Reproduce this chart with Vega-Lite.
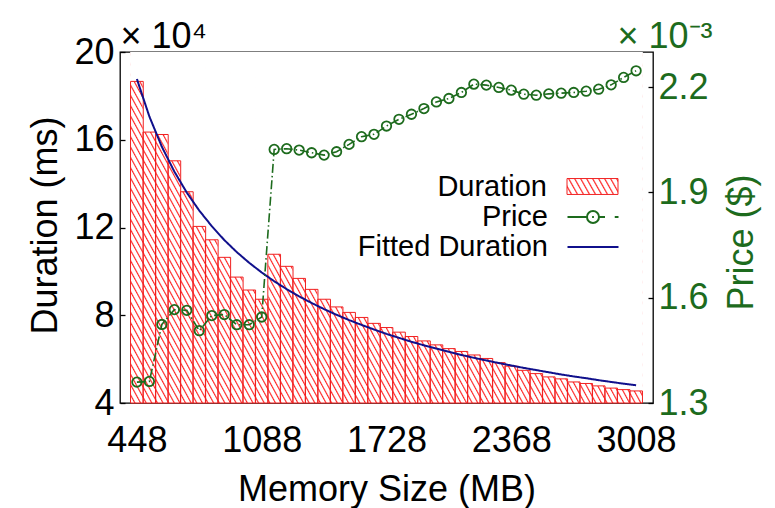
{
"$schema": "https://vega.github.io/schema/vega-lite/v6.json",
"width": 533, "height": 351,
"autosize": {"type": "none"},
"padding": {"left": 120, "top": 52, "right": 122, "bottom": 105},
"background": "white",
"config": {
  "view": {"stroke": "black", "strokeWidth": 1.3},
  "font": "Liberation Sans",
  "axis": {"labelFont": "Liberation Sans", "titleFont": "Liberation Sans", "labelFontSize": 36, "titleFontSize": 36, "titleFontWeight": "normal", "labelColor": "black", "titleColor": "black", "tickColor": "black", "tickWidth": 1.3, "grid": false, "domain": false, "labelFlush": false, "labelOverlap": false, "labelBound": false},
  "legend": {"orient": "none", "legendX": 457, "title": null, "labelFontSize": 29, "labelFont": "Liberation Sans", "labelColor": "black", "labelAlign": "right", "labelOffset": -61, "labelLimit": 0, "symbolSize": 900, "padding": 0, "symbolOpacity": 1}
},
"data": {"values": [
{"mem":448,"duration":186600,"price":0.0013595,"fitted":187700},
{"mem":512,"duration":163500,"price":0.0013615,"fitted":170600},
{"mem":576,"duration":162400,"price":0.0015237,"fitted":156800},
{"mem":640,"duration":150400,"price":0.001566,"fitted":145500},
{"mem":704,"duration":136300,"price":0.001564,"fitted":135900},
{"mem":768,"duration":120500,"price":0.001506,"fitted":127700},
{"mem":832,"duration":114400,"price":0.001549,"fitted":120600},
{"mem":896,"duration":106400,"price":0.001552,"fitted":114300},
{"mem":960,"duration":97400,"price":0.001523,"fitted":108800},
{"mem":1024,"duration":91500,"price":0.001523,"fitted":103900},
{"mem":1088,"duration":87300,"price":0.001545,"fitted":99500},
{"mem":1152,"duration":107800,"price":0.0020224,"fitted":95500},
{"mem":1216,"duration":102300,"price":0.0020245,"fitted":91900},
{"mem":1280,"duration":96800,"price":0.0020205,"fitted":88600},
{"mem":1344,"duration":91800,"price":0.002013,"fitted":85600},
{"mem":1408,"duration":87300,"price":0.0020062,"fitted":82800},
{"mem":1472,"duration":83800,"price":0.0020159,"fitted":80200},
{"mem":1536,"duration":81300,"price":0.0020368,"fitted":77800},
{"mem":1600,"duration":79000,"price":0.0020588,"fitted":75600},
{"mem":1664,"duration":76300,"price":0.0020654,"fitted":73500},
{"mem":1728,"duration":74400,"price":0.0020891,"fitted":71500},
{"mem":1792,"duration":72300,"price":0.0021083,"fitted":69700},
{"mem":1856,"duration":70300,"price":0.0021226,"fitted":67900},
{"mem":1920,"duration":68300,"price":0.0021389,"fitted":66300},
{"mem":1984,"duration":66500,"price":0.0021578,"fitted":64800},
{"mem":2048,"duration":64800,"price":0.0021675,"fitted":63300},
{"mem":2112,"duration":63500,"price":0.0021847,"fitted":61900},
{"mem":2176,"duration":61900,"price":0.0022084,"fitted":60600},
{"mem":2240,"duration":60300,"price":0.0022056,"fitted":59400},
{"mem":2304,"duration":58400,"price":0.002199,"fitted":58200},
{"mem":2368,"duration":56800,"price":0.0021913,"fitted":57100},
{"mem":2432,"duration":54900,"price":0.0021798,"fitted":56000},
{"mem":2496,"duration":53400,"price":0.002177,"fitted":55000},
{"mem":2560,"duration":51900,"price":0.0021807,"fitted":54000},
{"mem":2624,"duration":51000,"price":0.0021827,"fitted":53000},
{"mem":2688,"duration":49600,"price":0.0021847,"fitted":52100},
{"mem":2752,"duration":48900,"price":0.0021884,"fitted":51300},
{"mem":2816,"duration":47800,"price":0.0021941,"fitted":50400},
{"mem":2880,"duration":46800,"price":0.0022064,"fitted":49600},
{"mem":2944,"duration":46100,"price":0.0022276,"fitted":48800},
{"mem":3008,"duration":45500,"price":0.0022465,"fitted":48100}
]},
"layer": [
  {
    "data": {"values": [{"part": "hatch"}]},
    "mark": {"type": "rect", "stroke": null, "fill": {"gradient": "linear", "x1": 0, "y1": 1, "x2": 1.2051, "y2": 0.55, "stops": [
{"offset":0,"color":"#fff"},{"offset":0.0044,"color":"#fff"},{"offset":0.006,"color":"#f22"},
{"offset":0.008,"color":"#fff"},{"offset":0.0124,"color":"#fff"},{"offset":0.014,"color":"#f22"},
{"offset":0.016,"color":"#fff"},{"offset":0.0204,"color":"#fff"},{"offset":0.022,"color":"#f22"},
{"offset":0.024,"color":"#fff"},{"offset":0.0284,"color":"#fff"},{"offset":0.03,"color":"#f22"},
{"offset":0.032,"color":"#fff"},{"offset":0.0364,"color":"#fff"},{"offset":0.038,"color":"#f22"},
{"offset":0.04,"color":"#fff"},{"offset":0.0444,"color":"#fff"},{"offset":0.046,"color":"#f22"},
{"offset":0.048,"color":"#fff"},{"offset":0.0524,"color":"#fff"},{"offset":0.054,"color":"#f22"},
{"offset":0.056,"color":"#fff"},{"offset":0.0604,"color":"#fff"},{"offset":0.062,"color":"#f22"},
{"offset":0.064,"color":"#fff"},{"offset":0.0684,"color":"#fff"},{"offset":0.07,"color":"#f22"},
{"offset":0.072,"color":"#fff"},{"offset":0.0764,"color":"#fff"},{"offset":0.078,"color":"#f22"},
{"offset":0.08,"color":"#fff"},{"offset":0.0844,"color":"#fff"},{"offset":0.086,"color":"#f22"},
{"offset":0.088,"color":"#fff"},{"offset":0.0924,"color":"#fff"},{"offset":0.094,"color":"#f22"},
{"offset":0.096,"color":"#fff"},{"offset":0.1004,"color":"#fff"},{"offset":0.102,"color":"#f22"},
{"offset":0.104,"color":"#fff"},{"offset":0.1084,"color":"#fff"},{"offset":0.11,"color":"#f22"},
{"offset":0.112,"color":"#fff"},{"offset":0.1164,"color":"#fff"},{"offset":0.118,"color":"#f22"},
{"offset":0.12,"color":"#fff"},{"offset":0.1244,"color":"#fff"},{"offset":0.126,"color":"#f22"},
{"offset":0.128,"color":"#fff"},{"offset":0.1324,"color":"#fff"},{"offset":0.134,"color":"#f22"},
{"offset":0.136,"color":"#fff"},{"offset":0.1404,"color":"#fff"},{"offset":0.142,"color":"#f22"},
{"offset":0.144,"color":"#fff"},{"offset":0.1484,"color":"#fff"},{"offset":0.15,"color":"#f22"},
{"offset":0.152,"color":"#fff"},{"offset":0.1564,"color":"#fff"},{"offset":0.158,"color":"#f22"},
{"offset":0.16,"color":"#fff"},{"offset":0.1644,"color":"#fff"},{"offset":0.166,"color":"#f22"},
{"offset":0.168,"color":"#fff"},{"offset":0.1724,"color":"#fff"},{"offset":0.174,"color":"#f22"},
{"offset":0.176,"color":"#fff"},{"offset":0.1804,"color":"#fff"},{"offset":0.182,"color":"#f22"},
{"offset":0.184,"color":"#fff"},{"offset":0.1884,"color":"#fff"},{"offset":0.19,"color":"#f22"},
{"offset":0.192,"color":"#fff"},{"offset":0.1964,"color":"#fff"},{"offset":0.198,"color":"#f22"},
{"offset":0.2,"color":"#fff"},{"offset":0.2044,"color":"#fff"},{"offset":0.206,"color":"#f22"},
{"offset":0.208,"color":"#fff"},{"offset":0.2124,"color":"#fff"},{"offset":0.214,"color":"#f22"},
{"offset":0.216,"color":"#fff"},{"offset":0.2204,"color":"#fff"},{"offset":0.222,"color":"#f22"},
{"offset":0.224,"color":"#fff"},{"offset":0.2284,"color":"#fff"},{"offset":0.23,"color":"#f22"},
{"offset":0.232,"color":"#fff"},{"offset":0.2364,"color":"#fff"},{"offset":0.238,"color":"#f22"},
{"offset":0.24,"color":"#fff"},{"offset":0.2444,"color":"#fff"},{"offset":0.246,"color":"#f22"},
{"offset":0.248,"color":"#fff"},{"offset":0.2524,"color":"#fff"},{"offset":0.254,"color":"#f22"},
{"offset":0.256,"color":"#fff"},{"offset":0.2604,"color":"#fff"},{"offset":0.262,"color":"#f22"},
{"offset":0.264,"color":"#fff"},{"offset":0.2684,"color":"#fff"},{"offset":0.27,"color":"#f22"},
{"offset":0.272,"color":"#fff"},{"offset":0.2764,"color":"#fff"},{"offset":0.278,"color":"#f22"},
{"offset":0.28,"color":"#fff"},{"offset":0.2844,"color":"#fff"},{"offset":0.286,"color":"#f22"},
{"offset":0.288,"color":"#fff"},{"offset":0.2924,"color":"#fff"},{"offset":0.294,"color":"#f22"},
{"offset":0.296,"color":"#fff"},{"offset":0.3004,"color":"#fff"},{"offset":0.302,"color":"#f22"},
{"offset":0.304,"color":"#fff"},{"offset":0.3084,"color":"#fff"},{"offset":0.31,"color":"#f22"},
{"offset":0.312,"color":"#fff"},{"offset":0.3164,"color":"#fff"},{"offset":0.318,"color":"#f22"},
{"offset":0.32,"color":"#fff"},{"offset":0.3244,"color":"#fff"},{"offset":0.326,"color":"#f22"},
{"offset":0.328,"color":"#fff"},{"offset":0.3324,"color":"#fff"},{"offset":0.334,"color":"#f22"},
{"offset":0.336,"color":"#fff"},{"offset":0.3404,"color":"#fff"},{"offset":0.342,"color":"#f22"},
{"offset":0.344,"color":"#fff"},{"offset":0.3484,"color":"#fff"},{"offset":0.35,"color":"#f22"},
{"offset":0.352,"color":"#fff"},{"offset":0.3564,"color":"#fff"},{"offset":0.358,"color":"#f22"},
{"offset":0.36,"color":"#fff"},{"offset":0.3644,"color":"#fff"},{"offset":0.366,"color":"#f22"},
{"offset":0.368,"color":"#fff"},{"offset":0.3724,"color":"#fff"},{"offset":0.374,"color":"#f22"},
{"offset":0.376,"color":"#fff"},{"offset":0.3804,"color":"#fff"},{"offset":0.382,"color":"#f22"},
{"offset":0.384,"color":"#fff"},{"offset":0.3884,"color":"#fff"},{"offset":0.39,"color":"#f22"},
{"offset":0.392,"color":"#fff"},{"offset":0.3964,"color":"#fff"},{"offset":0.398,"color":"#f22"},
{"offset":0.4,"color":"#fff"},{"offset":0.4044,"color":"#fff"},{"offset":0.406,"color":"#f22"},
{"offset":0.408,"color":"#fff"},{"offset":0.4124,"color":"#fff"},{"offset":0.414,"color":"#f22"},
{"offset":0.416,"color":"#fff"},{"offset":0.4204,"color":"#fff"},{"offset":0.422,"color":"#f22"},
{"offset":0.424,"color":"#fff"},{"offset":0.4284,"color":"#fff"},{"offset":0.43,"color":"#f22"},
{"offset":0.432,"color":"#fff"},{"offset":0.4364,"color":"#fff"},{"offset":0.438,"color":"#f22"},
{"offset":0.44,"color":"#fff"},{"offset":0.4444,"color":"#fff"},{"offset":0.446,"color":"#f22"},
{"offset":0.448,"color":"#fff"},{"offset":0.4524,"color":"#fff"},{"offset":0.454,"color":"#f22"},
{"offset":0.456,"color":"#fff"},{"offset":0.4604,"color":"#fff"},{"offset":0.462,"color":"#f22"},
{"offset":0.464,"color":"#fff"},{"offset":0.4684,"color":"#fff"},{"offset":0.47,"color":"#f22"},
{"offset":0.472,"color":"#fff"},{"offset":0.4764,"color":"#fff"},{"offset":0.478,"color":"#f22"},
{"offset":0.48,"color":"#fff"},{"offset":0.4844,"color":"#fff"},{"offset":0.486,"color":"#f22"},
{"offset":0.488,"color":"#fff"},{"offset":0.4924,"color":"#fff"},{"offset":0.494,"color":"#f22"},
{"offset":0.496,"color":"#fff"},{"offset":0.5004,"color":"#fff"},{"offset":0.502,"color":"#f22"},
{"offset":0.504,"color":"#fff"},{"offset":0.5084,"color":"#fff"},{"offset":0.51,"color":"#f22"},
{"offset":0.512,"color":"#fff"},{"offset":0.5164,"color":"#fff"},{"offset":0.518,"color":"#f22"},
{"offset":0.52,"color":"#fff"},{"offset":0.5244,"color":"#fff"},{"offset":0.526,"color":"#f22"},
{"offset":0.528,"color":"#fff"},{"offset":0.5324,"color":"#fff"},{"offset":0.534,"color":"#f22"},
{"offset":0.536,"color":"#fff"},{"offset":0.5404,"color":"#fff"},{"offset":0.542,"color":"#f22"},
{"offset":0.544,"color":"#fff"},{"offset":0.5484,"color":"#fff"},{"offset":0.55,"color":"#f22"},
{"offset":0.552,"color":"#fff"},{"offset":0.5564,"color":"#fff"},{"offset":0.558,"color":"#f22"},
{"offset":0.56,"color":"#fff"},{"offset":0.5644,"color":"#fff"},{"offset":0.566,"color":"#f22"},
{"offset":0.568,"color":"#fff"},{"offset":0.5724,"color":"#fff"},{"offset":0.574,"color":"#f22"},
{"offset":0.576,"color":"#fff"},{"offset":0.5804,"color":"#fff"},{"offset":0.582,"color":"#f22"},
{"offset":0.584,"color":"#fff"},{"offset":0.5884,"color":"#fff"},{"offset":0.59,"color":"#f22"},
{"offset":0.592,"color":"#fff"},{"offset":0.5964,"color":"#fff"},{"offset":0.598,"color":"#f22"},
{"offset":0.6,"color":"#fff"},{"offset":0.6044,"color":"#fff"},{"offset":0.606,"color":"#f22"},
{"offset":0.608,"color":"#fff"},{"offset":0.6124,"color":"#fff"},{"offset":0.614,"color":"#f22"},
{"offset":0.616,"color":"#fff"},{"offset":0.6204,"color":"#fff"},{"offset":0.622,"color":"#f22"},
{"offset":0.624,"color":"#fff"},{"offset":0.6284,"color":"#fff"},{"offset":0.63,"color":"#f22"},
{"offset":0.632,"color":"#fff"},{"offset":0.6364,"color":"#fff"},{"offset":0.638,"color":"#f22"},
{"offset":0.64,"color":"#fff"},{"offset":0.6444,"color":"#fff"},{"offset":0.646,"color":"#f22"},
{"offset":0.648,"color":"#fff"},{"offset":0.6524,"color":"#fff"},{"offset":0.654,"color":"#f22"},
{"offset":0.656,"color":"#fff"},{"offset":0.6604,"color":"#fff"},{"offset":0.662,"color":"#f22"},
{"offset":0.664,"color":"#fff"},{"offset":0.6684,"color":"#fff"},{"offset":0.67,"color":"#f22"},
{"offset":0.672,"color":"#fff"},{"offset":0.6764,"color":"#fff"},{"offset":0.678,"color":"#f22"},
{"offset":0.68,"color":"#fff"},{"offset":0.6844,"color":"#fff"},{"offset":0.686,"color":"#f22"},
{"offset":0.688,"color":"#fff"},{"offset":0.6924,"color":"#fff"},{"offset":0.694,"color":"#f22"},
{"offset":0.696,"color":"#fff"},{"offset":0.7004,"color":"#fff"},{"offset":0.702,"color":"#f22"},
{"offset":0.704,"color":"#fff"},{"offset":0.7084,"color":"#fff"},{"offset":0.71,"color":"#f22"},
{"offset":0.712,"color":"#fff"},{"offset":0.7164,"color":"#fff"},{"offset":0.718,"color":"#f22"},
{"offset":0.72,"color":"#fff"},{"offset":0.7244,"color":"#fff"},{"offset":0.726,"color":"#f22"},
{"offset":0.728,"color":"#fff"},{"offset":0.7324,"color":"#fff"},{"offset":0.734,"color":"#f22"},
{"offset":0.736,"color":"#fff"},{"offset":0.7404,"color":"#fff"},{"offset":0.742,"color":"#f22"},
{"offset":0.744,"color":"#fff"},{"offset":0.7484,"color":"#fff"},{"offset":0.75,"color":"#f22"},
{"offset":0.752,"color":"#fff"},{"offset":0.7564,"color":"#fff"},{"offset":0.758,"color":"#f22"},
{"offset":0.76,"color":"#fff"},{"offset":0.7644,"color":"#fff"},{"offset":0.766,"color":"#f22"},
{"offset":0.768,"color":"#fff"},{"offset":0.7724,"color":"#fff"},{"offset":0.774,"color":"#f22"},
{"offset":0.776,"color":"#fff"},{"offset":0.7804,"color":"#fff"},{"offset":0.782,"color":"#f22"},
{"offset":0.784,"color":"#fff"},{"offset":0.7884,"color":"#fff"},{"offset":0.79,"color":"#f22"},
{"offset":0.792,"color":"#fff"},{"offset":0.7964,"color":"#fff"},{"offset":0.798,"color":"#f22"},
{"offset":0.8,"color":"#fff"},{"offset":0.8044,"color":"#fff"},{"offset":0.806,"color":"#f22"},
{"offset":0.808,"color":"#fff"},{"offset":0.8124,"color":"#fff"},{"offset":0.814,"color":"#f22"},
{"offset":0.816,"color":"#fff"},{"offset":0.8204,"color":"#fff"},{"offset":0.822,"color":"#f22"},
{"offset":0.824,"color":"#fff"},{"offset":0.8284,"color":"#fff"},{"offset":0.83,"color":"#f22"},
{"offset":0.832,"color":"#fff"},{"offset":0.8364,"color":"#fff"},{"offset":0.838,"color":"#f22"},
{"offset":0.84,"color":"#fff"},{"offset":0.8444,"color":"#fff"},{"offset":0.846,"color":"#f22"},
{"offset":0.848,"color":"#fff"},{"offset":0.8524,"color":"#fff"},{"offset":0.854,"color":"#f22"},
{"offset":0.856,"color":"#fff"},{"offset":0.8604,"color":"#fff"},{"offset":0.862,"color":"#f22"},
{"offset":0.864,"color":"#fff"},{"offset":0.8684,"color":"#fff"},{"offset":0.87,"color":"#f22"},
{"offset":0.872,"color":"#fff"},{"offset":0.8764,"color":"#fff"},{"offset":0.878,"color":"#f22"},
{"offset":0.88,"color":"#fff"},{"offset":0.8844,"color":"#fff"},{"offset":0.886,"color":"#f22"},
{"offset":0.888,"color":"#fff"},{"offset":0.8924,"color":"#fff"},{"offset":0.894,"color":"#f22"},
{"offset":0.896,"color":"#fff"},{"offset":0.9004,"color":"#fff"},{"offset":0.902,"color":"#f22"},
{"offset":0.904,"color":"#fff"},{"offset":0.9084,"color":"#fff"},{"offset":0.91,"color":"#f22"},
{"offset":0.912,"color":"#fff"},{"offset":0.9164,"color":"#fff"},{"offset":0.918,"color":"#f22"},
{"offset":0.92,"color":"#fff"},{"offset":0.9244,"color":"#fff"},{"offset":0.926,"color":"#f22"},
{"offset":0.928,"color":"#fff"},{"offset":0.9324,"color":"#fff"},{"offset":0.934,"color":"#f22"},
{"offset":0.936,"color":"#fff"},{"offset":0.9404,"color":"#fff"},{"offset":0.942,"color":"#f22"},
{"offset":0.944,"color":"#fff"},{"offset":0.9484,"color":"#fff"},{"offset":0.95,"color":"#f22"},
{"offset":0.952,"color":"#fff"},{"offset":0.9564,"color":"#fff"},{"offset":0.958,"color":"#f22"},
{"offset":0.96,"color":"#fff"},{"offset":0.9644,"color":"#fff"},{"offset":0.966,"color":"#f22"},
{"offset":0.968,"color":"#fff"},{"offset":0.9724,"color":"#fff"},{"offset":0.974,"color":"#f22"},
{"offset":0.976,"color":"#fff"},{"offset":0.9804,"color":"#fff"},{"offset":0.982,"color":"#f22"},
{"offset":0.984,"color":"#fff"},{"offset":0.9884,"color":"#fff"},{"offset":0.99,"color":"#f22"},
{"offset":0.992,"color":"#fff"},{"offset":0.9964,"color":"#fff"},{"offset":0.998,"color":"#f22"},
{"offset":1,"color":"#fff"}
    ]}},
    "encoding": {
      "x": {"datum": 416, "type": "quantitative", "scale": {"domain": [387, 3069], "nice": false, "zero": false},
            "axis": {"orient": "top", "title": "× 10⁴", "labels": false, "ticks": false, "domain": false, "titleX": 0, "titleY": -5, "titleAlign": "left", "titleBaseline": "alphabetic", "titleAngle": 0}},
      "x2": {"datum": 3040},
      "y": {"datum": 40000, "type": "quantitative", "scale": {"domain": [40000, 200000], "nice": false, "zero": false}, "axis": null},
      "y2": {"datum": 200000}
    }
  },
  {
    "mark": {"type": "bar", "fill": "white", "stroke": null, "width": {"expr": "width*64/2682+0.6"}},
    "encoding": {
      "x": {"field": "mem", "type": "quantitative", "scale": {"domain": [387, 3069], "nice": false, "zero": false}, "axis": null},
      "y": {"field": "duration", "type": "quantitative", "scale": {"domain": [40000, 200000], "nice": false, "zero": false}, "axis": null},
      "y2": {"datum": 200000}
    }
  },
  {
    "mark": {"type": "bar", "filled": false, "color": "#f02020", "strokeWidth": 1, "width": {"expr": "width*64/2682"}},
    "encoding": {
      "x": {"field": "mem", "type": "quantitative", "scale": {"domain": [387, 3069], "nice": false, "zero": false},
            "axis": {"orient": "bottom", "values": [448, 1088, 1728, 2368, 3008], "format": "d", "title": "Memory Size (MB)", "ticks": false, "labelPadding": 20, "titleX": 266.5, "titleY": 97, "titleBaseline": "alphabetic", "titleAlign": "center"}},
      "y": {"field": "duration", "type": "quantitative", "scale": {"domain": [40000, 200000], "nice": false, "zero": false},
            "axis": {"orient": "left", "offset": -5, "values": [40000, 80000, 120000, 160000, 200000], "labelExpr": "datum.value / 10000", "title": "Duration (ms)", "tickSize": 5, "labelPadding": 6, "titleX": -80, "titleY": 173, "titleAngle": -90, "titleAlign": "center", "titleBaseline": "middle"}},
      "y2": {"datum": 40000}
    }
  },
  {
    "data": {"values": [{"part": "legend swatch"}]},
    "mark": {"type": "rect", "strokeWidth": 1, "fill": {"gradient": "linear", "x1": 0, "y1": 1, "x2": 1.14, "y2": 0.8, "stops": [
              {"offset":0,"color":"#fff"},{"offset":0.055,"color":"#fff"},{"offset":0.075,"color":"#f22"},
              {"offset":0.1,"color":"#fff"},{"offset":0.155,"color":"#fff"},{"offset":0.175,"color":"#f22"},
              {"offset":0.2,"color":"#fff"},{"offset":0.255,"color":"#fff"},{"offset":0.275,"color":"#f22"},
              {"offset":0.3,"color":"#fff"},{"offset":0.355,"color":"#fff"},{"offset":0.375,"color":"#f22"},
              {"offset":0.4,"color":"#fff"},{"offset":0.455,"color":"#fff"},{"offset":0.475,"color":"#f22"},
              {"offset":0.5,"color":"#fff"},{"offset":0.555,"color":"#fff"},{"offset":0.575,"color":"#f22"},
              {"offset":0.6,"color":"#fff"},{"offset":0.655,"color":"#fff"},{"offset":0.675,"color":"#f22"},
              {"offset":0.7,"color":"#fff"},{"offset":0.755,"color":"#fff"},{"offset":0.775,"color":"#f22"},
              {"offset":0.8,"color":"#fff"},{"offset":0.855,"color":"#fff"},{"offset":0.875,"color":"#f22"},
              {"offset":0.9,"color":"#fff"},{"offset":0.955,"color":"#fff"},{"offset":0.975,"color":"#f22"},
              {"offset":1,"color":"#fff"}]}},
    "encoding": {
      "x": {"datum": 416, "type": "quantitative", "scale": {"domain": [387, 3069], "nice": false, "zero": false}, "axis": null},
      "x2": {"datum": 416},
      "y": {"datum": 40000, "type": "quantitative", "scale": {"domain": [40000, 200000], "nice": false, "zero": false}, "axis": null},
      "y2": {"datum": 40000},
      "stroke": {"datum": "Duration", "scale": {"range": ["#f02020"]},
        "legend": {"legendY": 119, "symbolType": "M-1.7,-0.53H1.7V0.53H-1.7Z", "symbolStrokeWidth": 1}}
    }
  },
  {
    "mark": {"type": "line", "strokeWidth": 2, "color": "#10108c"},
    "encoding": {
      "x": {"field": "mem", "type": "quantitative", "scale": {"domain": [387, 3069], "nice": false, "zero": false}, "axis": null},
      "y": {"field": "fitted", "type": "quantitative", "scale": {"domain": [40000, 200000], "nice": false, "zero": false}, "axis": null},
      "strokeDash": {"datum": "Fitted Duration", "scale": {"range": [[1, 0]]},
        "legend": {"legendY": 179, "symbolType": "M-1.7,0H1.7", "symbolStrokeColor": "#10108c", "symbolStrokeWidth": 2, "symbolFillColor": "transparent"}}
    }
  },
  {
    "mark": {"type": "line", "strokeWidth": 1.6, "strokeDash": [9, 3, 1.5, 3], "color": "#1d6b1d"},
    "encoding": {
      "x": {"field": "mem", "type": "quantitative", "scale": {"domain": [387, 3069], "nice": false, "zero": false},
            "axis": {"orient": "top", "title": "× 10⁻³", "labels": false, "ticks": false, "domain": false, "titleX": 592, "titleY": -5, "titleAlign": "right", "titleBaseline": "alphabetic", "titleAngle": 0, "titleColor": "#1d6b1d"}},
      "y": {"field": "price", "type": "quantitative", "scale": {"domain": [0.0013, 0.0023], "nice": false, "zero": false},
            "axis": {"orient": "right", "offset": -5, "values": [0.0013, 0.0016, 0.0019, 0.0022], "labelExpr": "format(datum.value * 1000, '.1f')", "title": "Price ($)", "tickSize": 5, "labelPadding": 5, "labelColor": "#1d6b1d", "titleColor": "#1d6b1d", "titleX": 93, "titleY": 190, "titleAngle": -90, "titleAlign": "center", "titleBaseline": "middle"}}
    }
  },
  {
    "mark": {"type": "point", "filled": false, "size": 90, "strokeWidth": 1.8, "color": "#1d6b1d"},
    "encoding": {
      "x": {"field": "mem", "type": "quantitative", "scale": {"domain": [387, 3069], "nice": false, "zero": false}, "axis": null},
      "y": {"field": "price", "type": "quantitative", "scale": {"domain": [0.0013, 0.0023], "nice": false, "zero": false}, "axis": null},
      "opacity": {"datum": "Price", "scale": {"range": [1]},
        "legend": {"legendY": 149, "symbolType": "M-1.7,0H-0.4A0.4,0.4 0 1,0 0.4,0A0.4,0.4 0 1,0 -0.4,0M-0.06,0H0.06M0.45,0H0.8M1.45,0H1.7", "symbolStrokeColor": "#1d6b1d", "symbolStrokeWidth": 2, "symbolFillColor": "transparent"}}
    }
  }
],
"resolve": {"scale": {"y": "independent"}}
}
